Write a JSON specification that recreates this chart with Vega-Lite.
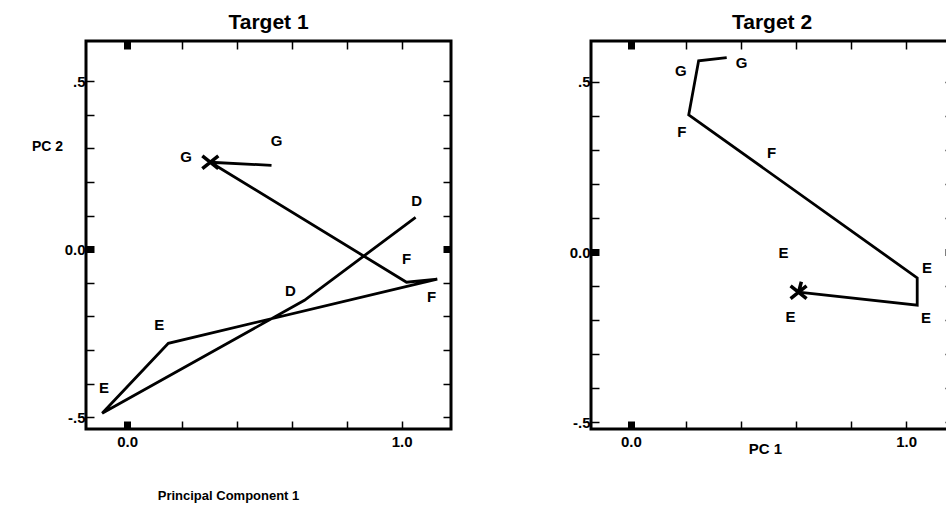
{
  "$schema": "https://vega.github.io/schema/vega-lite/v6.json",
  "padding": {"left": 27, "top": 10, "right": 0, "bottom": 0},
  "background": "white",
  "spacing": 111,
  "config": {
    "font": "Liberation Sans",
    "view": {"stroke": "black", "strokeWidth": 3},
    "axis": {
      "domain": false,
      "grid": false,
      "ticks": true,
      "tickColor": "black",
      "tickSize": -8,
      "labelColor": "black",
      "labelFont": "Liberation Sans",
      "labelFontWeight": "bold",
      "labelFontSize": 15,
      "titleFont": "Liberation Sans",
      "titleFontWeight": "bold",
      "titleColor": "black",
      "titleFontSize": 14
    },
    "title": {"font": "Liberation Sans", "fontWeight": "bold", "fontSize": 21, "color": "black", "offset": 5}
  },
  "datasets": {
    "path1": [
      {"order": 1, "pc1": 0.526, "pc2": 0.25},
      {"order": 2, "pc1": 0.303, "pc2": 0.259},
      {"order": 3, "pc1": 1.018, "pc2": -0.098},
      {"order": 4, "pc1": 1.13, "pc2": -0.089},
      {"order": 5, "pc1": 0.15, "pc2": -0.28},
      {"order": 6, "pc1": -0.091, "pc2": -0.488},
      {"order": 7, "pc1": 0.646, "pc2": -0.152},
      {"order": 8, "pc1": 1.051, "pc2": 0.095}
    ],
    "labels1": [
      {"label": "G", "pc1": 0.215, "pc2": 0.274},
      {"label": "G", "pc1": 0.544, "pc2": 0.321},
      {"label": "D", "pc1": 1.055, "pc2": 0.143},
      {"label": "F", "pc1": 1.018, "pc2": -0.03},
      {"label": "F", "pc1": 1.109, "pc2": -0.143},
      {"label": "D", "pc1": 0.595, "pc2": -0.125},
      {"label": "E", "pc1": 0.117, "pc2": -0.226},
      {"label": "E", "pc1": -0.084, "pc2": -0.414}
    ],
    "marker1": [{"pc1": 0.303, "pc2": 0.259}],
    "path2": [
      {"order": 1, "pc1": 0.348, "pc2": 0.571},
      {"order": 2, "pc1": 0.246, "pc2": 0.562},
      {"order": 3, "pc1": 0.21, "pc2": 0.403},
      {"order": 4, "pc1": 1.04, "pc2": -0.076},
      {"order": 5, "pc1": 1.04, "pc2": -0.156},
      {"order": 6, "pc1": 0.609, "pc2": -0.118}
    ],
    "labels2": [
      {"label": "G", "pc1": 0.181, "pc2": 0.532},
      {"label": "G", "pc1": 0.402, "pc2": 0.556},
      {"label": "F", "pc1": 0.185, "pc2": 0.353},
      {"label": "F", "pc1": 0.511, "pc2": 0.291},
      {"label": "E", "pc1": 0.554, "pc2": -0.003},
      {"label": "E", "pc1": 1.076, "pc2": -0.047},
      {"label": "E", "pc1": 0.58, "pc2": -0.191},
      {"label": "E", "pc1": 1.072, "pc2": -0.194}
    ],
    "marker2": [{"pc1": 0.609, "pc2": -0.118}]
  },
  "hconcat": [
    {
      "width": 365,
      "height": 388,
      "title": {"text": "Target  1"},
      "layer": [
        {
          "data": {"name": "path1"},
          "mark": {"type": "line", "color": "black", "strokeWidth": 2.8},
          "encoding": {
            "x": {"field": "pc1", "type": "quantitative", "scale": {"domain": [-0.15, 1.18], "nice": false, "zero": false},
              "axis": {"orient": "bottom", "values": [0, 0.2, 0.4, 0.6, 0.8, 1.0], "labelExpr": "datum.value === 0 ? '0.0' : datum.value === 1 ? '1.0' : ''", "labelPadding": 13,
                "tickWidth": {"condition": {"test": "datum.value === 0", "value": 7}, "value": 1.5},
                "title": "Principal Component  1", "titleX": 142, "titleY": 66, "titleBaseline": "middle", "titleAlign": "center", "titleFontSize": 13}},
            "y": {"field": "pc2", "type": "quantitative", "scale": {"domain": [-0.535, 0.62], "nice": false, "zero": false},
              "axis": {"orient": "left", "values": [-0.5, -0.4, -0.3, -0.2, -0.1, 0, 0.1, 0.2, 0.3, 0.4, 0.5], "labelExpr": "datum.value === 0.5 ? '.5' : datum.value === 0 ? '0.0' : datum.value === -0.5 ? '-.5' : ''", "labelPadding": 9,
                "tickWidth": {"condition": {"test": "datum.value === 0", "value": 7}, "value": 1.5},
                "title": "PC  2", "titleAngle": 0, "titleX": -39, "titleY": 105, "titleAlign": "center", "titleBaseline": "middle", "titleFontSize": 14}},
            "order": {"field": "order", "type": "quantitative"}
          }
        },
        {
          "data": {"name": "labels1"},
          "mark": {"type": "text", "color": "black", "fontSize": 15, "fontWeight": "bold", "font": "Liberation Sans", "align": "center", "baseline": "middle"},
          "encoding": {
            "x": {"field": "pc1", "type": "quantitative", "scale": {"domain": [-0.15, 1.18], "nice": false, "zero": false},
              "axis": {"orient": "top", "values": [0, 0.2, 0.4, 0.6, 0.8, 1.0], "labels": false, "title": null,
                "tickWidth": {"condition": {"test": "datum.value === 0", "value": 7}, "value": 1.5}}},
            "y": {"field": "pc2", "type": "quantitative", "scale": {"domain": [-0.535, 0.62], "nice": false, "zero": false},
              "axis": {"orient": "right", "values": [-0.5, -0.4, -0.3, -0.2, -0.1, 0, 0.1, 0.2, 0.3, 0.4, 0.5], "labels": false, "title": null,
                "tickWidth": {"condition": {"test": "datum.value === 0", "value": 7}, "value": 1.5}}},
            "text": {"field": "label", "type": "nominal"}
          }
        },
        {
          "data": {"name": "marker1"},
          "mark": {"type": "point", "shape": "M-1,-0.8L1,0.8M-1,0.8L1,-0.8", "size": 256, "stroke": "black", "strokeWidth": 3.5, "filled": false, "opacity": 1},
          "encoding": {
            "x": {"field": "pc1", "type": "quantitative", "scale": {"domain": [-0.15, 1.18], "nice": false, "zero": false}, "axis": null},
            "y": {"field": "pc2", "type": "quantitative", "scale": {"domain": [-0.535, 0.62], "nice": false, "zero": false}, "axis": null}
          }
        }
      ],
      "resolve": {"axis": {"x": "independent", "y": "independent"}}
    },
    {
      "width": 362,
      "height": 388,
      "title": {"text": "Target  2"},
      "layer": [
        {
          "data": {"name": "path2"},
          "mark": {"type": "line", "color": "black", "strokeWidth": 2.8},
          "encoding": {
            "x": {"field": "pc1", "type": "quantitative", "scale": {"domain": [-0.145, 1.17], "nice": false, "zero": false},
              "axis": {"orient": "bottom", "values": [0, 0.2, 0.4, 0.6, 0.8, 1.0], "labelExpr": "datum.value === 0 ? '0.0' : datum.value === 1 ? '1.0' : ''", "labelPadding": 13,
                "tickWidth": {"condition": {"test": "datum.value === 0", "value": 7}, "value": 1.5},
                "title": "PC  1", "titleX": 174, "titleY": 19, "titleBaseline": "middle", "titleAlign": "center", "titleFontSize": 15}},
            "y": {"field": "pc2", "type": "quantitative", "scale": {"domain": [-0.52, 0.62], "nice": false, "zero": false},
              "axis": {"orient": "left", "values": [-0.5, -0.4, -0.3, -0.2, -0.1, 0, 0.1, 0.2, 0.3, 0.4, 0.5], "labelExpr": "datum.value === 0.5 ? '.5' : datum.value === 0 ? '0.0' : datum.value === -0.5 ? '-.5' : ''", "labelPadding": 9,
                "tickWidth": {"condition": {"test": "datum.value === 0", "value": 7}, "value": 1.5},
                "title": null}},
            "order": {"field": "order", "type": "quantitative"}
          }
        },
        {
          "data": {"name": "labels2"},
          "mark": {"type": "text", "color": "black", "fontSize": 15, "fontWeight": "bold", "font": "Liberation Sans", "align": "center", "baseline": "middle"},
          "encoding": {
            "x": {"field": "pc1", "type": "quantitative", "scale": {"domain": [-0.145, 1.17], "nice": false, "zero": false},
              "axis": {"orient": "top", "values": [0, 0.2, 0.4, 0.6, 0.8, 1.0], "labels": false, "title": null,
                "tickWidth": {"condition": {"test": "datum.value === 0", "value": 7}, "value": 1.5}}},
            "y": {"field": "pc2", "type": "quantitative", "scale": {"domain": [-0.52, 0.62], "nice": false, "zero": false},
              "axis": {"orient": "right", "values": [-0.5, -0.4, -0.3, -0.2, -0.1, 0, 0.1, 0.2, 0.3, 0.4, 0.5], "labels": false, "title": null,
                "tickWidth": {"condition": {"test": "datum.value === 0", "value": 7}, "value": 1.5}}},
            "text": {"field": "label", "type": "nominal"}
          }
        },
        {
          "data": {"name": "marker2"},
          "mark": {"type": "point", "shape": "M-1,-0.8L1,0.8M-1,0.8L1,-0.8M0.35,-1.3L0,0", "size": 256, "stroke": "black", "strokeWidth": 3.5, "filled": false, "opacity": 1},
          "encoding": {
            "x": {"field": "pc1", "type": "quantitative", "scale": {"domain": [-0.145, 1.17], "nice": false, "zero": false}, "axis": null},
            "y": {"field": "pc2", "type": "quantitative", "scale": {"domain": [-0.52, 0.62], "nice": false, "zero": false}, "axis": null}
          }
        }
      ],
      "resolve": {"axis": {"x": "independent", "y": "independent"}}
    }
  ]
}
